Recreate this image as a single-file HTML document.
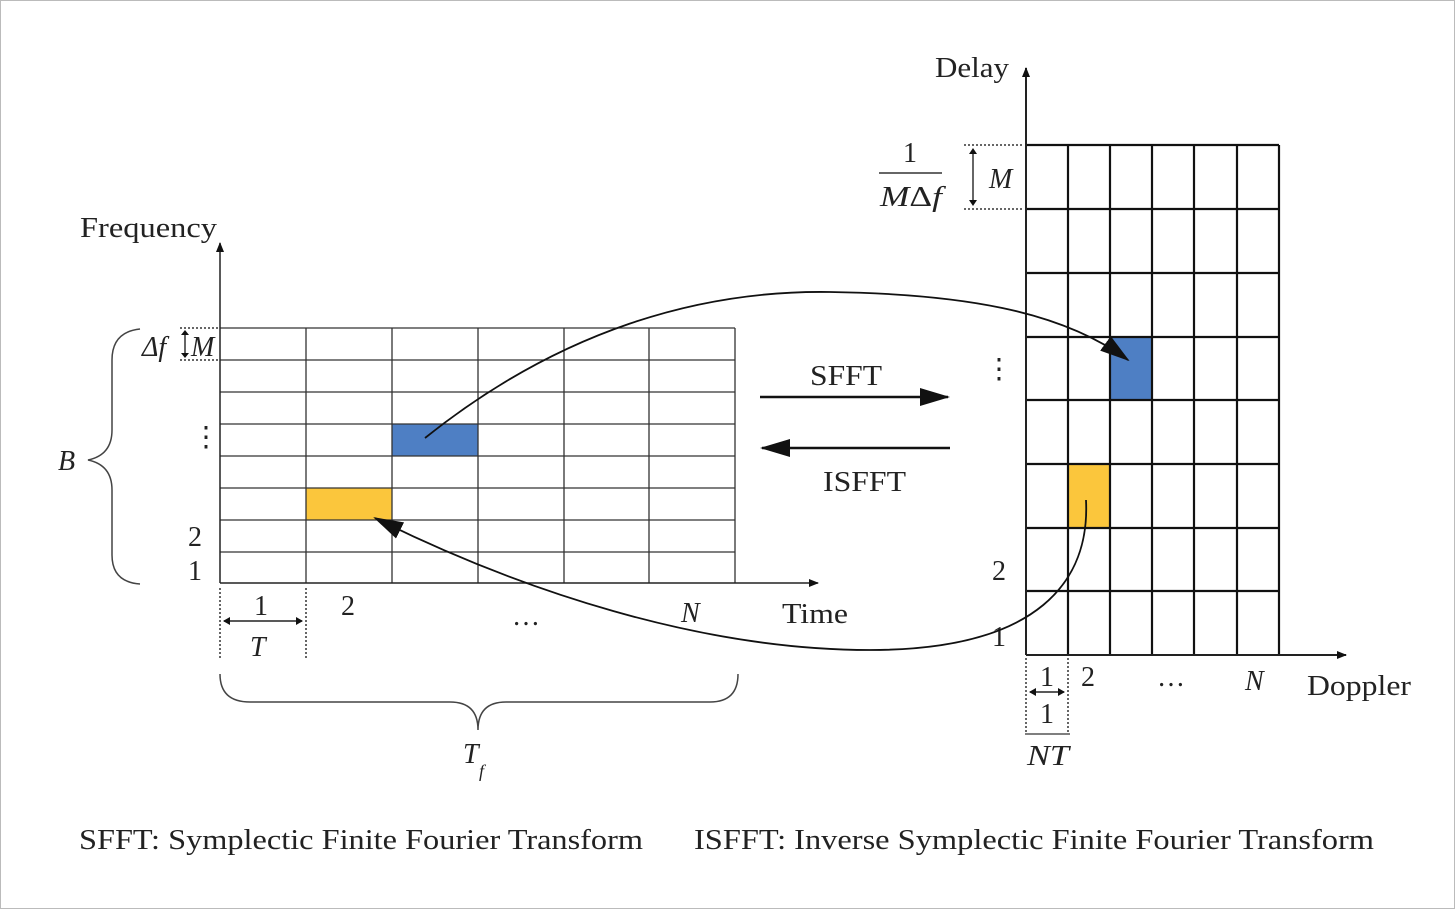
<!DOCTYPE html>
<html><head><meta charset="utf-8"><style>
html,body{margin:0;padding:0;background:#fff;}
svg{display:block;}
text{font-family:"Liberation Serif",serif;fill:#222;}
.i{font-style:italic;}
</style></head><body>
<svg width="1455" height="909" viewBox="0 0 1455 909" xmlns="http://www.w3.org/2000/svg">
<defs>
<marker id="ah" markerWidth="10" markerHeight="8" refX="9" refY="4" orient="auto" markerUnits="userSpaceOnUse"><path d="M0,0 L10,4 L0,8 z" fill="#111"/></marker>
<marker id="big" markerWidth="30" markerHeight="18" refX="28" refY="9" orient="auto" markerUnits="userSpaceOnUse"><path d="M0,0 L30,9 L0,18 z" fill="#111"/></marker>
</defs>
<rect x="0.5" y="0.5" width="1454" height="908" fill="#fff" stroke="#bbb"/>

<rect x="392" y="424" width="86" height="32" fill="#4e7fc4"/>
<rect x="306" y="488" width="86" height="32" fill="#fbc63c"/>
<g stroke="#333" stroke-width="1.3" fill="none">
<path d="M220,328H735M220,360H735M220,392H735M220,424H735M220,456H735M220,488H735M220,520H735M220,552H735"/>
<path d="M306,328V583M392,328V583M478,328V583M564,328V583M649,328V583M735,328V583"/>
</g>
<line x1="220" y1="583" x2="220" y2="243" stroke="#222" stroke-width="1.5" marker-end="url(#ah)"/>
<line x1="220" y1="583" x2="818" y2="583" stroke="#222" stroke-width="1.5" marker-end="url(#ah)"/>
<text x="80" y="237" font-size="28" textLength="137" lengthAdjust="spacingAndGlyphs">Frequency</text>
<text x="782" y="623" font-size="28" textLength="66" lengthAdjust="spacingAndGlyphs">Time</text>
<path d="M180,328H218M180,360H218" stroke="#333" stroke-width="1.5" stroke-dasharray="2,2"/>
<line x1="185" y1="332" x2="185" y2="356" stroke="#333" stroke-width="1.5"/>
<path d="M181,335L185,330L189,335z M181,353L185,358L189,353z" fill="#111"/>
<text x="142" y="356" font-size="28" class="i">Δf</text>
<text x="191" y="356" font-size="28" class="i">M</text>
<path d="M140,329 Q112,332 112,360 L112,430 Q112,455 88,460 Q112,465 112,490 L112,555 Q112,582 140,584" fill="none" stroke="#444" stroke-width="1.5"/>
<text x="58" y="470" font-size="28" class="i">B</text>
<text x="192" y="446" font-size="28">⋮</text>
<text x="188" y="546" font-size="28">2</text>
<text x="188" y="580" font-size="28">1</text>
<path d="M220,588V660M306,588V660" stroke="#333" stroke-width="1.5" stroke-dasharray="2,2"/>
<line x1="224" y1="621" x2="302" y2="621" stroke="#222" stroke-width="1.5"/>
<path d="M230,617L223,621L230,625z M296,617L303,621L296,625z" fill="#111"/>
<text x="254" y="615" font-size="28">1</text>
<text x="250" y="656" font-size="28" class="i">T</text>
<text x="341" y="615" font-size="28">2</text>
<text x="512" y="625" font-size="28">…</text>
<text x="681" y="622" font-size="28" class="i">N</text>
<path d="M220,674 Q220,702 250,702 L450,702 Q478,702 478,730 Q478,702 506,702 L710,702 Q738,702 738,674" fill="none" stroke="#444" stroke-width="1.5"/>
<text x="463" y="763" font-size="28" class="i">T</text>
<text x="479" y="777" font-size="18" class="i">f</text>

<line x1="760" y1="397" x2="948" y2="397" stroke="#111" stroke-width="2.5" marker-end="url(#big)"/>
<line x1="950" y1="448" x2="762" y2="448" stroke="#111" stroke-width="2.5" marker-end="url(#big)"/>
<text x="810" y="385" font-size="28" textLength="72" lengthAdjust="spacingAndGlyphs">SFFT</text>
<text x="823" y="491" font-size="28" textLength="83" lengthAdjust="spacingAndGlyphs">ISFFT</text>

<rect x="1110" y="337" width="42" height="63" fill="#4e7fc4"/>
<rect x="1068" y="464" width="42" height="64" fill="#fbc63c"/>
<g stroke="#111" stroke-width="2.2" fill="none">
<path d="M1026,145H1279M1026,209H1279M1026,273H1279M1026,337H1279M1026,400H1279M1026,464H1279M1026,528H1279M1026,591H1279"/>
<path d="M1068,145V655M1110,145V655M1152,145V655M1194,145V655M1237,145V655M1279,145V655"/>
</g>
<line x1="1026" y1="655" x2="1026" y2="68" stroke="#222" stroke-width="2" marker-end="url(#ah)"/>
<line x1="1026" y1="655" x2="1346" y2="655" stroke="#222" stroke-width="2" marker-end="url(#ah)"/>
<text x="935" y="77" font-size="28" textLength="74" lengthAdjust="spacingAndGlyphs">Delay</text>
<text x="1307" y="695" font-size="28" textLength="104" lengthAdjust="spacingAndGlyphs">Doppler</text>
<path d="M964,145H1024M964,209H1024" stroke="#333" stroke-width="1.5" stroke-dasharray="2,2"/>
<line x1="973" y1="150" x2="973" y2="204" stroke="#333" stroke-width="1.5"/>
<path d="M969,154L973,148L977,154z M969,200L973,206L977,200z" fill="#111"/>
<text x="989" y="188" font-size="28" class="i">M</text>
<text x="903" y="162" font-size="28">1</text>
<line x1="879" y1="173" x2="942" y2="173" stroke="#333" stroke-width="1.5"/>
<text x="880" y="206" font-size="28" class="i" textLength="62" lengthAdjust="spacingAndGlyphs">M<tspan font-style="normal">Δ</tspan>f</text>
<text x="985" y="378" font-size="28">⋮</text>
<text x="992" y="580" font-size="28">2</text>
<text x="992" y="646" font-size="28">1</text>
<path d="M1026,658V733M1068,658V733" stroke="#333" stroke-width="1.5" stroke-dasharray="2,2"/>
<line x1="1025" y1="734" x2="1070" y2="734" stroke="#333" stroke-width="1.2"/>
<line x1="1030" y1="692" x2="1064" y2="692" stroke="#222" stroke-width="1.5"/>
<path d="M1036,688L1029,692L1036,696z M1058,688L1065,692L1058,696z" fill="#111"/>
<text x="1040" y="686" font-size="28">1</text>
<text x="1040" y="723" font-size="28">1</text>
<text x="1027" y="765" font-size="28" class="i" textLength="42" lengthAdjust="spacingAndGlyphs">NT</text>
<text x="1081" y="686" font-size="28">2</text>
<text x="1157" y="686" font-size="28">…</text>
<text x="1245" y="690" font-size="28" class="i">N</text>

<path d="M425,438 C560,330 700,290 830,292 C960,294 1060,310 1128,360" fill="none" stroke="#111" stroke-width="1.8" marker-end="url(#big)"/>
<path d="M1086,500 C1090,580 1040,650 870,650 C700,650 520,590 375,518" fill="none" stroke="#111" stroke-width="1.8" marker-end="url(#big)"/>

<text x="79" y="849" font-size="28" textLength="564" lengthAdjust="spacingAndGlyphs">SFFT: Symplectic Finite Fourier Transform</text>
<text x="694" y="849" font-size="28" textLength="680" lengthAdjust="spacingAndGlyphs">ISFFT: Inverse Symplectic Finite Fourier Transform</text>
</svg>
</body></html>
